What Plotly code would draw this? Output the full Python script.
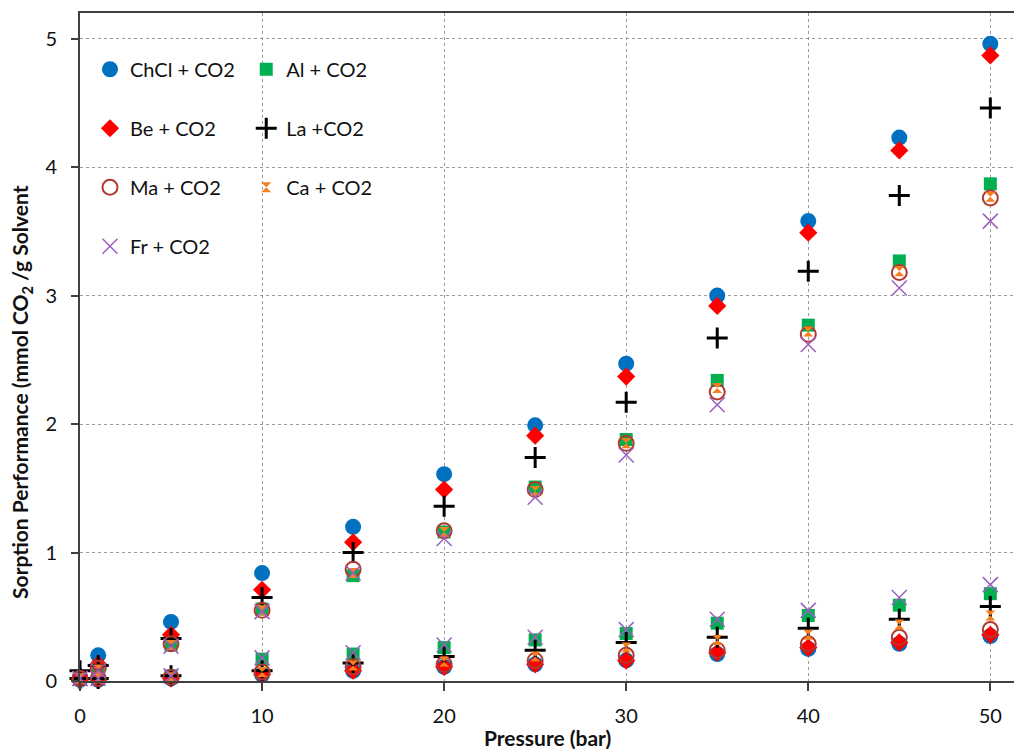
import plotly.graph_objects as go

pressure = [0, 1, 5, 10, 15, 20, 25, 30, 35, 40, 45, 50]

# upper set of points (main sorption curve)
chcl_a = [0.03, 0.20, 0.46, 0.84, 1.20, 1.61, 1.99, 2.47, 3.00, 3.58, 4.23, 4.96]
al_a   = [0.02, 0.06, 0.28, 0.56, 0.82, 1.16, 1.51, 1.88, 2.34, 2.77, 3.27, 3.87]
be_a   = [0.02, 0.13, 0.36, 0.71, 1.08, 1.49, 1.91, 2.37, 2.92, 3.49, 4.13, 4.87]
la_a   = [0.08, 0.12, 0.33, 0.65, 1.00, 1.36, 1.74, 2.17, 2.67, 3.19, 3.78, 4.46]
ma_a   = [0.02, 0.10, 0.29, 0.55, 0.87, 1.17, 1.49, 1.85, 2.25, 2.70, 3.18, 3.76]
ca_a   = [0.02, 0.09, 0.28, 0.55, 0.84, 1.16, 1.48, 1.85, 2.28, 2.72, 3.19, 3.77]
fr_a   = [0.02, 0.08, 0.27, 0.54, 0.84, 1.11, 1.43, 1.76, 2.15, 2.62, 3.06, 3.58]

# lower set of points
chcl_b = [0.01, 0.01, 0.02, 0.05, 0.08, 0.11, 0.13, 0.16, 0.21, 0.25, 0.29, 0.35]
al_b   = [0.02, 0.02, 0.04, 0.17, 0.21, 0.26, 0.32, 0.37, 0.45, 0.51, 0.59, 0.68]
be_b   = [0.01, 0.01, 0.02, 0.05, 0.08, 0.11, 0.13, 0.16, 0.22, 0.26, 0.30, 0.36]
la_b   = [0.02, 0.02, 0.04, 0.08, 0.14, 0.19, 0.24, 0.30, 0.34, 0.41, 0.48, 0.58]
ma_b   = [0.02, 0.02, 0.03, 0.07, 0.11, 0.13, 0.16, 0.20, 0.24, 0.29, 0.34, 0.40]
ca_b   = [0.02, 0.02, 0.03, 0.07, 0.12, 0.15, 0.19, 0.26, 0.32, 0.36, 0.44, 0.51]
fr_b   = [0.02, 0.02, 0.04, 0.18, 0.22, 0.28, 0.34, 0.40, 0.48, 0.55, 0.65, 0.75]

names = ["ChCl + CO2", "Al + CO2", "Be + CO2", "La +CO2", "Ma + CO2", "Ca + CO2", "Fr + CO2"]
set_a = [chcl_a, al_a, be_a, la_a, ma_a, ca_a, fr_a]
set_b = [chcl_b, al_b, be_b, la_b, ma_b, ca_b, fr_b]

styles = [
    dict(symbol="circle", color="#0070C0", size=16, line=dict(width=0)),
    dict(symbol="square", color="#00B050", size=13, line=dict(width=0)),
    dict(symbol="diamond", color="#FF0000", size=14, line=dict(width=0)),
    dict(symbol="cross-thin", color="#000000", size=15, line=dict(width=3, color="#000000")),
    dict(symbol="circle-open", color="#B03A30", size=15, line=dict(width=2, color="#B03A30")),
    dict(symbol="hourglass", color="#F77F1E", size=10, line=dict(width=0)),
    dict(symbol="x-thin", color="#9B5FC0", size=15, line=dict(width=1.5, color="#9B5FC0")),
]
legend_of = ["legend", "legend2", "legend", "legend2", "legend", "legend2", "legend"]

FONT = "Lato"

fig = go.Figure()
for name, a, b, st, lg in zip(names, set_a, set_b, styles, legend_of):
    fig.add_trace(go.Scatter(
        x=pressure + pressure,
        y=a + b,
        mode="markers",
        name=name,
        marker=st,
        cliponaxis=False,
        legend=lg,
        legendgroup=name,
    ))

legend_common = dict(
    font=dict(family=FONT, size=20, color="#111"),
    bgcolor="rgba(0,0,0,0)",
    traceorder="grouped",
    tracegroupgap=30,
    yanchor="top",
    xanchor="left",
    itemwidth=30,
)

fig.update_layout(
    width=1014, height=751,
    autosize=False,
    margin=dict(l=80, r=0, t=13, b=70),
    plot_bgcolor="white",
    paper_bgcolor="white",
    font=dict(family=FONT, size=20, color="#111"),
    legend=dict(x=0.0107, y=0.945, **legend_common),
    legend2=dict(x=0.178, y=0.945, **legend_common),
    xaxis=dict(
        range=[0, 51.3],
        tickvals=[0, 10, 20, 30, 40, 50],
        showgrid=True, gridcolor="#9a9a9a", griddash="dot", gridwidth=1,
        showline=True, linecolor="#404040", linewidth=2, mirror=True,
        ticks="outside", ticklen=8, tickcolor="#404040", tickwidth=1.5,
        ticklabelstandoff=8,
        zeroline=False,
        tickfont=dict(family=FONT, size=20, color="#111"),
    ),
    yaxis=dict(
        range=[0, 5.2],
        tickvals=[0, 1, 2, 3, 4, 5],
        showgrid=True, gridcolor="#9a9a9a", griddash="dot", gridwidth=1,
        showline=True, linecolor="#404040", linewidth=2,
        ticks="outside", ticklen=7, tickcolor="#404040", tickwidth=1.5,
        ticklabelstandoff=10,
        zeroline=False,
        tickfont=dict(family=FONT, size=20, color="#111"),
    ),
    annotations=[
        dict(text="<b>Sorption Performance (mmol CO<sub>2</sub> /g Solvent</b>",
             xref="paper", yref="paper", x=-0.063, y=0.433,
             xanchor="center", yanchor="middle", textangle=-90,
             showarrow=False, font=dict(family=FONT, size=21, color="#111")),
        dict(text="<b>Pressure (bar)</b>",
             xref="paper", yref="paper", x=0.5, y=-0.0853,
             xanchor="center", yanchor="middle",
             showarrow=False, font=dict(family=FONT, size=21, color="#111")),
    ],
)

fig.write_html(
    "out.html",
    config={"displayModeBar": False},
    post_script="document.body.style.margin='0px';document.body.style.overflow='hidden';",
)
